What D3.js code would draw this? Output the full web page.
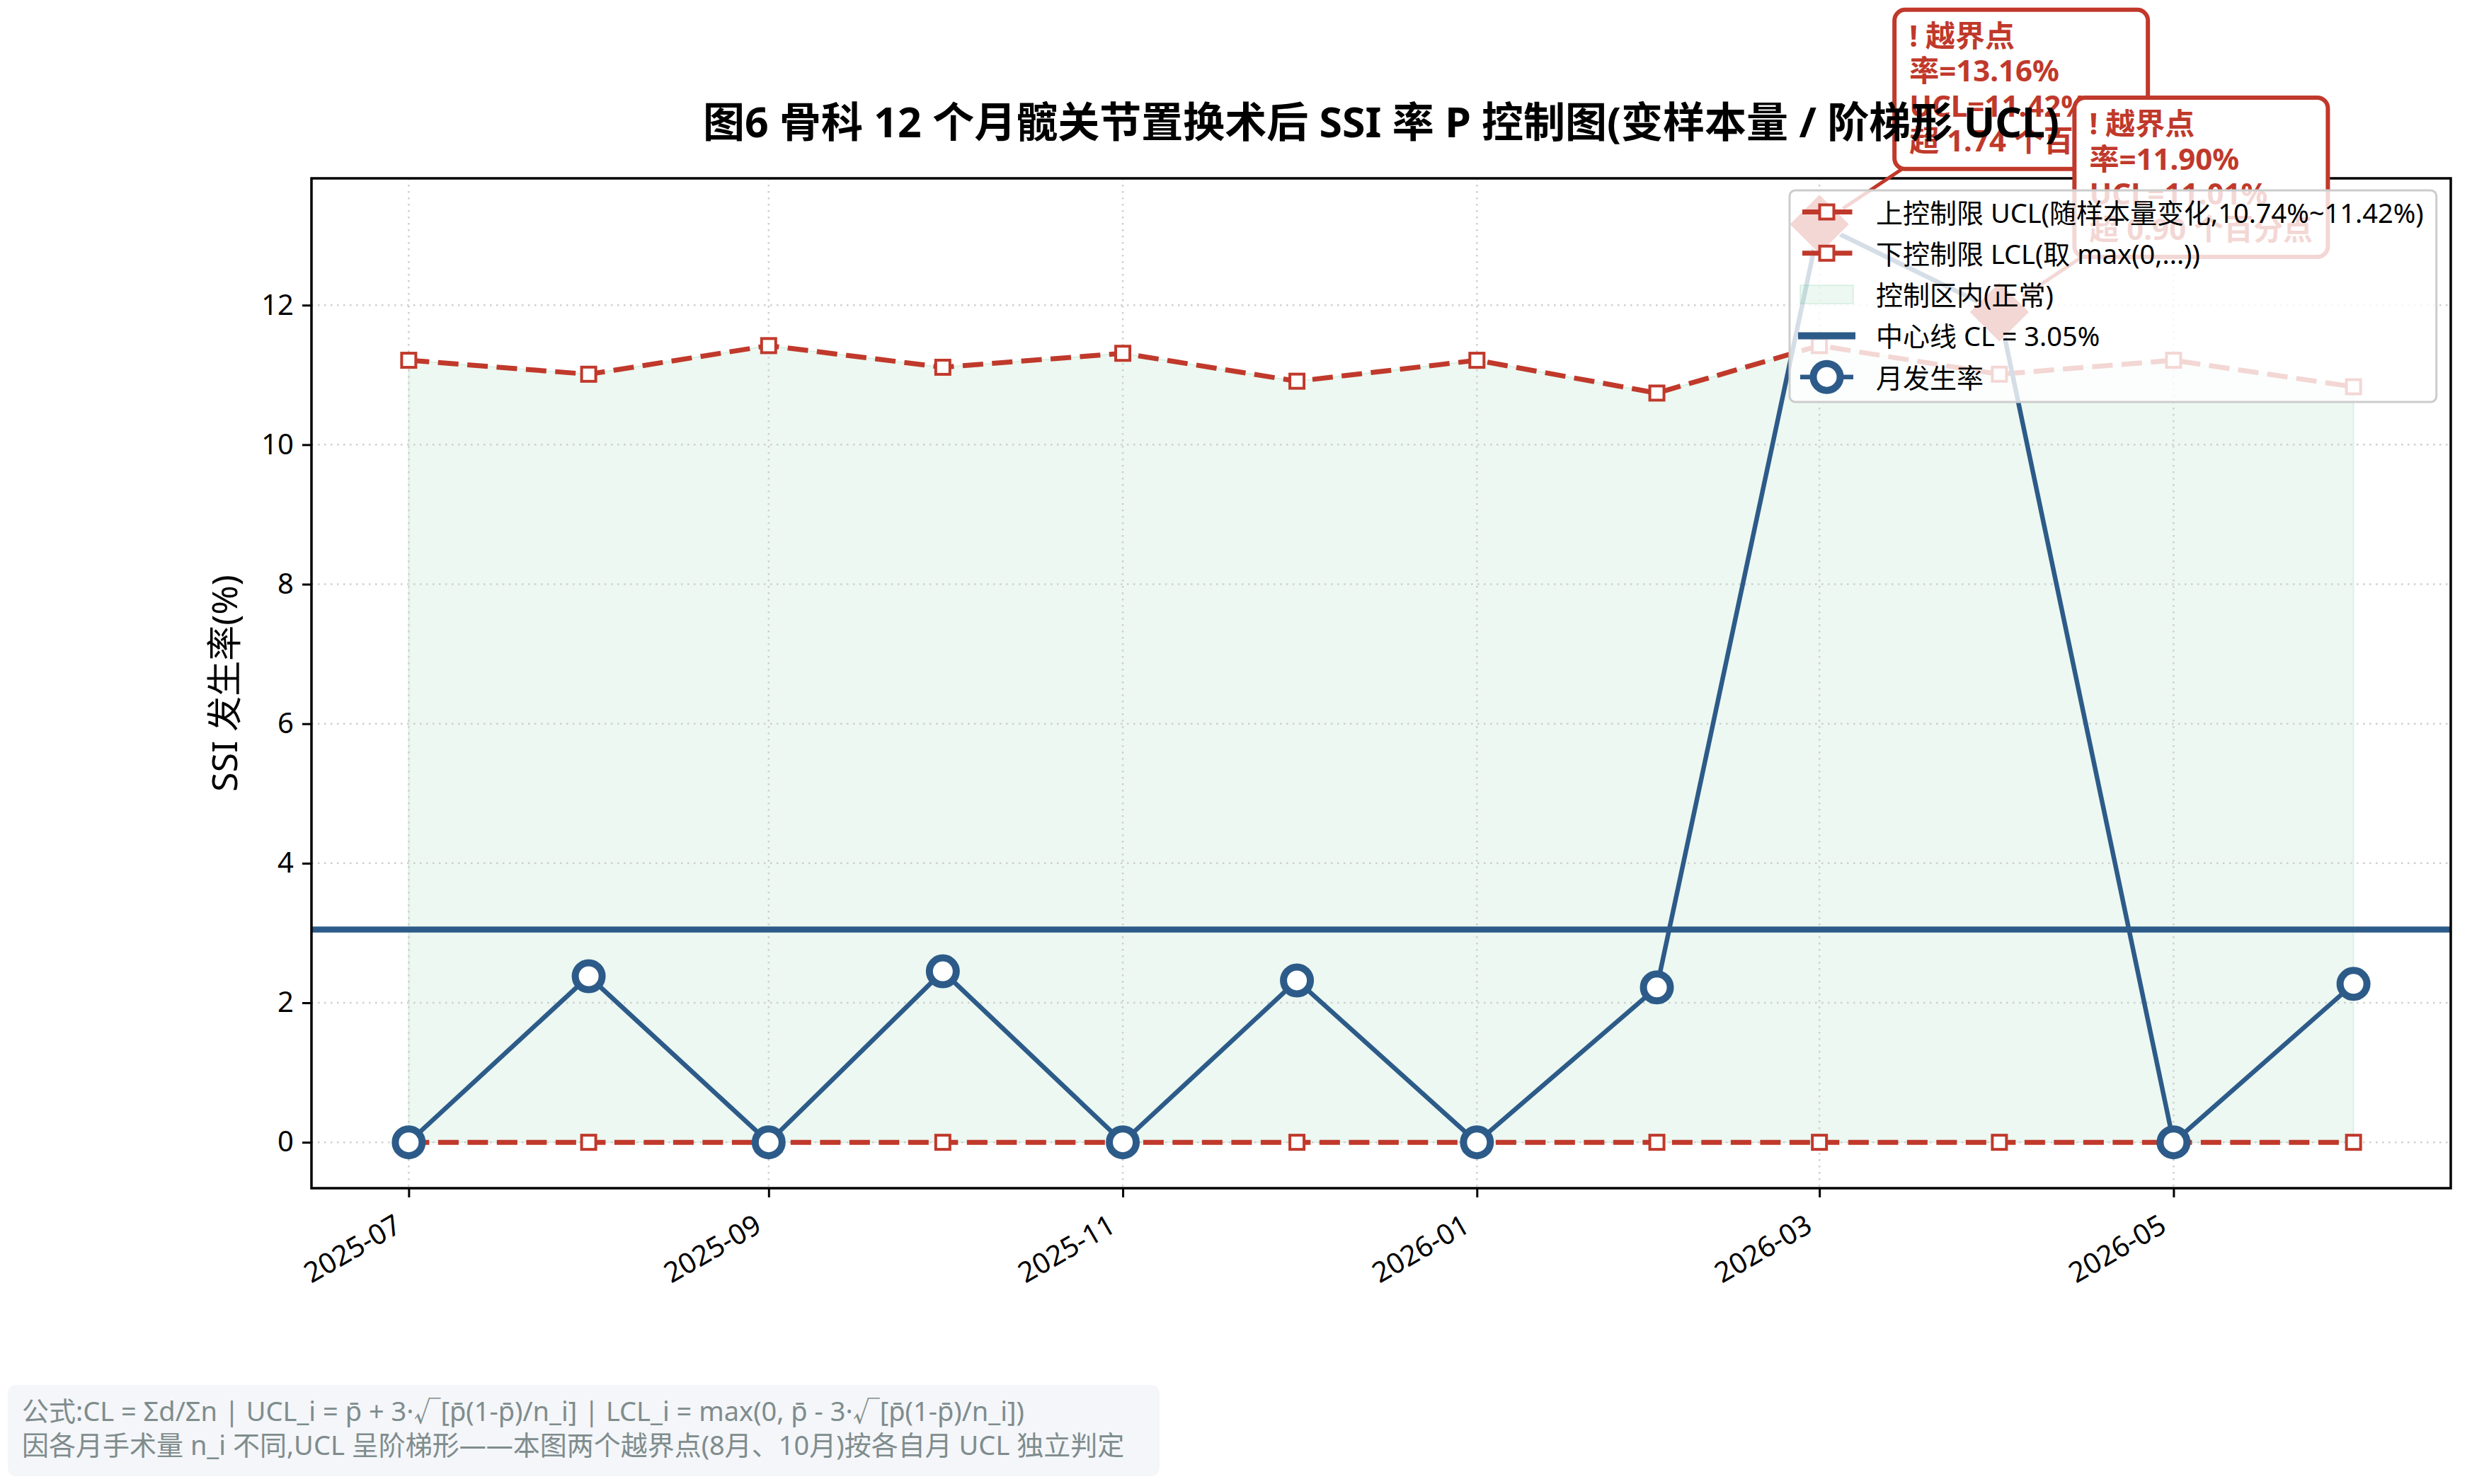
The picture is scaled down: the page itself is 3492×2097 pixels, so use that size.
<!DOCTYPE html>
<html>
<head>
<meta charset="utf-8">
<script src="https://cdn.jsdelivr.net/npm/d3@7"></script>
<style>
  body { margin: 0; background: #fff; }
  svg { display: block; font-family: "Noto Sans", "Noto Sans CJK SC", sans-serif; }
</style>
</head>
<body>
<svg id="chart" width="3492" height="2097"></svg>
<script>
// monthly data
const months = ["2025-07","2025-08","2025-09","2025-10","2025-11","2025-12",
                "2026-01","2026-02","2026-03","2026-04","2026-05","2026-06"];
const rate = [0, 2.38, 0, 2.45, 0, 2.32, 0, 2.22, 13.16, 11.90, 0, 2.27];
const ucl = [11.21, 11.01, 11.42, 11.11, 11.31, 10.91, 11.21, 10.74, 11.42, 11.01, 11.21, 10.83];
const lcl = [0, 0, 0, 0, 0, 0, 0, 0, 0, 0, 0, 0];
const centerLine = 3.05;
const xTickLabels = ["2025-07","2025-09","2025-11","2026-01","2026-03","2026-05"];
const yTickValues = [0, 2, 4, 6, 8, 10, 12];
const outlierIdx = [8, 9];
const outlierText = [
  ["! 越界点", "率=13.16%", "UCL=11.42%", "超 1.74 个百分点"],
  ["! 越界点", "率=11.90%", "UCL=11.01%", "超 0.90 个百分点"]
];
const legendLabels = ["上控制限 UCL(随样本量变化,10.74%~11.42%)", "下控制限 LCL(取 max(0,...))",
                      "控制区内(正常)", "中心线 CL = 3.05%", "月发生率"];
const titleText = "图6 骨科 12 个月髋关节置换术后 SSI 率 P 控制图(变样本量 / 阶梯形 UCL)";
const yLabel = "SSI 发生率(%)";
const footerLines = [
  "公式:CL = Σd/Σn | UCL_i = p\u0304 + 3·√[p\u0304(1-p\u0304)/n_i] | LCL_i = max(0, p\u0304 - 3·√[p\u0304(1-p\u0304)/n_i])",
  "因各月手术量 n_i 不同,UCL 呈阶梯形——本图两个越界点(8月、10月)按各自月 UCL 独立判定"
];

const RED = "#c0392b", BLUE = "#2d5b89", GREEN = "#27ae60";
const margin = {left: 440, right: 3462, top: 252, bottom: 1679};

const parse = d3.timeParse("%Y-%m");
const data = months.map((m, i) => ({date: parse(m), rate: rate[i], ucl: ucl[i], lcl: lcl[i]}));

const svg = d3.select("#chart");

// x: time scale with 5% padding like matplotlib
const d0 = data[0].date, d1 = data[data.length - 1].date;
const pad = (d1 - d0) * 0.05;
const x = d3.scaleTime()
    .domain([new Date(+d0 - pad), new Date(+d1 + pad)])
    .range([margin.left, margin.right]);
const yMax = d3.max(data, d => Math.max(d.rate, d.ucl)), yMin = 0;
const yPad = (yMax - yMin) * 0.05;
const y = d3.scaleLinear()
    .domain([yMin - yPad, yMax + yPad])
    .range([margin.bottom, margin.top]);

//control region fill
svg.append("path")
    .datum(data)
    .attr("d", d3.area().x(d => x(d.date)).y0(d => y(d.lcl)).y1(d => y(d.ucl)))
    .attr("fill", GREEN).attr("fill-opacity", 0.09)
    .attr("stroke", GREEN).attr("stroke-opacity", 0.12).attr("stroke-width", 2);

//grid
const grid = svg.append("g").attr("stroke", "#cfcfcf").attr("stroke-width", 2.5).attr("stroke-dasharray", "2.5,6.5");
grid.selectAll(".gy").data(yTickValues).enter().append("line")
    .attr("x1", margin.left).attr("x2", margin.right)
    .attr("y1", d => y(d)).attr("y2", d => y(d));
grid.selectAll(".gx").data(xTickLabels.map(parse)).enter().append("line")
    .attr("y1", margin.top).attr("y2", margin.bottom)
    .attr("x1", d => x(d)).attr("x2", d => x(d));

//control limits
for (const key of ["ucl", "lcl"]) {
    svg.append("path").datum(data)
        .attr("d", d3.line().x(d => x(d.date)).y(d => y(d[key])))
        .attr("fill", "none").attr("stroke", RED).attr("stroke-width", 7)
        .attr("stroke-dasharray", "29,12.5");
    svg.selectAll(".m" + key).data(data).enter().append("rect")
        .attr("x", d => x(d.date) - 10).attr("y", d => y(d[key]) - 10)
        .attr("width", 20).attr("height", 20)
        .attr("fill", "#fff").attr("stroke", RED).attr("stroke-width", 4);
}

//center line
svg.append("line")
    .attr("x1", margin.left).attr("x2", margin.right)
    .attr("y1", y(centerLine)).attr("y2", y(centerLine))
    .attr("stroke", BLUE).attr("stroke-width", 8.5);

//monthly rate
svg.append("path").datum(data)
    .attr("d", d3.line().x(d => x(d.date)).y(d => y(d.rate)))
    .attr("fill", "none").attr("stroke", BLUE).attr("stroke-width", 6.5);
svg.selectAll(".rate").data(data).enter().append("circle")
    .attr("cx", d => x(d.date)).attr("cy", d => y(d.rate)).attr("r", 19)
    .attr("fill", "#fff").attr("stroke", BLUE).attr("stroke-width", 10);

//outlier diamonds
svg.selectAll(".diam").data(outlierIdx.map(i => data[i])).enter().append("path")
    .attr("d", "M0,-43L43,0L0,43L-43,0Z")
    .attr("transform", d => `translate(${x(d.date)},${y(d.rate)})`)
    .attr("fill", RED).attr("stroke", "#fff").attr("stroke-width", 2);

//spines
svg.append("rect")
    .attr("x", margin.left).attr("y", margin.top)
    .attr("width", margin.right - margin.left).attr("height", margin.bottom - margin.top)
    .attr("fill", "none").attr("stroke", "#000").attr("stroke-width", 3.5);

//axes
const yAxis = svg.append("g").attr("transform", `translate(${margin.left},0)`)
    .call(d3.axisLeft(y).tickValues(yTickValues).tickSize(13).tickPadding(12).tickFormat(d3.format("d")));
const xAxis = svg.append("g").attr("transform", `translate(0,${margin.bottom})`)
    .call(d3.axisBottom(x).tickValues(xTickLabels.map(parse)).tickSize(13).tickFormat(d3.timeFormat("%Y-%m")));
for (const ax of [xAxis, yAxis]) {
    ax.select(".domain").remove();
    ax.selectAll(".tick line").attr("stroke", "#000").attr("stroke-width", 3);
    ax.selectAll(".tick text").attr("fill", "#000")
        .style("font-size", "40px").style("font-family", '"Noto Sans", "Noto Sans CJK SC", sans-serif');
}
xAxis.selectAll(".tick text")
    .attr("y", 0).attr("dy", 0)
    .attr("text-anchor", "end")
    .attr("transform", "translate(-8,60) rotate(-30)");

//y label
svg.append("text")
    .attr("transform", `translate(316,${(margin.top + margin.bottom) / 2}) rotate(-90)`)
    .attr("text-anchor", "middle").attr("dominant-baseline", "central")
    .style("font-size", "50px").text(yLabel);

//annotations
outlierIdx.forEach((idx, k) => {
    const px = x(data[idx].date), py = y(data[idx].rate);
    const bx = px + 106, by = py - 303, bw = 358, bh = 225;
    const cx = bx + bw / 2, cy = by + bh / 2;
    const len = Math.hypot(cx - px, cy - py), shrink = 40;
    const g = svg.append("g");
    g.append("line")
        .attr("x1", cx).attr("y1", cy)
        .attr("x2", px + (cx - px) * shrink / len).attr("y2", py + (cy - py) * shrink / len)
        .attr("stroke", RED).attr("stroke-width", 5);
    g.append("rect").attr("x", bx).attr("y", by).attr("width", bw).attr("height", bh)
        .attr("rx", 15).attr("fill", "#fff").attr("stroke", RED).attr("stroke-width", 6);
    g.selectAll("text").data(outlierText[k]).enter().append("text")
        .attr("x", bx + 21).attr("y", (d, j) => by + 52 + j * 49.5)
        .attr("fill", RED).style("font-size", "42px").style("font-weight", "bold")
        .text(d => d);
});

//legend
const lg = svg.append("g").attr("transform", "translate(2528,269)");
const lgBox = lg.append("rect").attr("height", 299).attr("rx", 8)
    .attr("fill", "#fff").attr("fill-opacity", 0.8).attr("stroke", "#cccccc").attr("stroke-width", 3);
const rowY = i => 30.5 + i * 58.3;
lg.selectAll("text").data(legendLabels).enter().append("text")
    .attr("x", 122).attr("y", (d, i) => rowY(i)).attr("dominant-baseline", "central")
    .style("font-size", "38px").text(d => d);
// UCL & LCL handles
[0, 1].forEach(i => {
    lg.append("line").attr("x1", 15).attr("x2", 90).attr("y1", rowY(i)).attr("y2", rowY(i))
        .attr("stroke", RED).attr("stroke-width", 7).attr("stroke-dasharray", "29,12.5")
        .attr("stroke-dashoffset", -3);
    lg.append("rect").attr("x", 42.5).attr("y", rowY(i) - 10).attr("width", 20).attr("height", 20)
        .attr("fill", "#fff").attr("stroke", RED).attr("stroke-width", 4);
});
lg.append("rect").attr("x", 15).attr("y", rowY(2) - 13).attr("width", 75).attr("height", 26)
    .attr("fill", GREEN).attr("fill-opacity", 0.09).attr("stroke", GREEN).attr("stroke-opacity", 0.12).attr("stroke-width", 2);
lg.append("line").attr("x1", 12).attr("x2", 93).attr("y1", rowY(3)).attr("y2", rowY(3))
    .attr("stroke", BLUE).attr("stroke-width", 10);
lg.append("line").attr("x1", 15).attr("x2", 90).attr("y1", rowY(4)).attr("y2", rowY(4))
    .attr("stroke", BLUE).attr("stroke-width", 6.5);
lg.append("circle").attr("cx", 52.5).attr("cy", rowY(4)).attr("r", 19)
    .attr("fill", "#fff").attr("stroke", BLUE).attr("stroke-width", 10);
const maxLen = d3.max(lg.selectAll("text").nodes(), n => n.getComputedTextLength());
lgBox.attr("width", 122 + maxLen + 18);

//title
svg.append("text")
    .attr("x", (margin.left + margin.right) / 2).attr("y", 194)
    .attr("text-anchor", "middle")
    .style("font-size", "59px").style("font-weight", "bold")
    .text(titleText);

//footer note
svg.append("rect").attr("x", 11).attr("y", 1957).attr("width", 1627).attr("height", 129)
    .attr("rx", 12).attr("fill", "#f4f6f9");
svg.selectAll(".foot").data(footerLines).enter().append("text")
    .attr("x", 31).attr("y", (d, i) => 2008 + i * 48)
    .attr("fill", "#7f8c8d").style("font-size", "38px")
    .text(d => d);
</script>
</body>
</html>
